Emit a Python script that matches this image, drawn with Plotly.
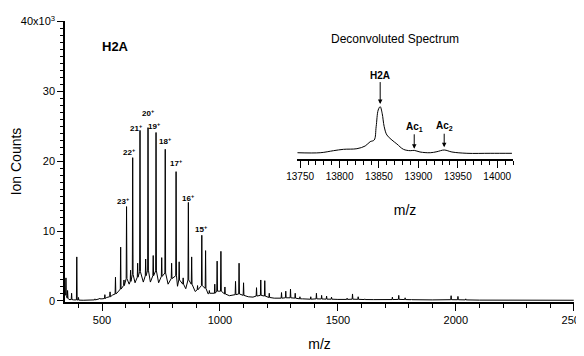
import numpy as np
import plotly.graph_objects as go

# ---------------- data ----------------
# broad baseline (trough) of the spectrum, m/z vs ion counts
base_mz = [343, 350, 360, 380, 420, 460, 500, 520, 545, 568, 600, 615, 640, 675, 705, 740, 780, 820, 855, 895,
           950, 1000, 1040, 1120, 1140, 1230, 1350, 1500, 1650, 1900, 2100, 2250, 2420, 2500]
base_val = [800, 300, 200, 150, 100, 150, 300, 500, 850, 1300, 2100, 2400, 2600, 2700, 2700, 2600, 2400, 2100, 1750, 1350,
            1000, 850, 750, 600, 550, 400, 300, 220, 190, 150, 120, 110, 100, 100]

# individual peaks: m/z, apex height, height at the foot of the spike
peak_mz = [347, 354, 371, 393, 400, 470, 490, 512, 534, 557, 579, 593, 604, 621, 630, 651, 661, 685, 695, 717,
           729, 753, 768, 795, 814, 827, 844, 866, 880, 905, 923, 939, 955, 978, 988, 1004, 1021, 1066, 1081, 1100,
           1155, 1173, 1190, 1209, 1261, 1279, 1299, 1319, 1339, 1385, 1409, 1431, 1452, 1473, 1539, 1562, 1586, 1614,
           1731, 1758, 1785, 1812, 1980, 2009, 2042, 2306, 2344, 2377]
peak_top = [3300, 1500, 1100, 6300, 500, 300, 400, 900, 1300, 3400, 7700, 3000, 13500, 4400, 20500, 5400, 24400, 6000, 24800, 6500,
            24100, 6200, 21700, 5400, 18500, 5600, 3300, 14100, 6300, 2200, 9400, 7200, 1500, 2400, 5700, 7100, 2000, 2800, 5400, 2600,
            1900, 3000, 2900, 1100, 1200, 1400, 1700, 1100, 600, 600, 1100, 800, 700, 550, 400, 1000, 600, 300,
            550, 800, 450, 250, 750, 650, 300, 200, 200, 150]
peak_foot = [800, 400, 200, 150, 120, 150, 300, 350, 600, 1000, 1700, 2200, 3200, 2800, 3800, 3400, 4200, 3600, 4400, 3600,
             4300, 3500, 4000, 3200, 3600, 3000, 2400, 3000, 2400, 1600, 2200, 1800, 1100, 1100, 1400, 1400, 1000, 900, 1000, 800,
             700, 800, 700, 500, 400, 450, 450, 400, 300, 250, 300, 280, 260, 250, 220, 250, 230, 200,
             200, 220, 200, 180, 180, 170, 150, 110, 110, 100]

# charge-state labels and where they sit (m/z, ion counts)
charge_labels = ["23", "22", "21", "20", "19", "18", "17", "16", "15"]
label_mz = [589, 618, 644, 695, 724, 767, 817, 868, 923]
label_y = [14300, 21300, 24700, 26900, 25000, 22900, 19700, 14700, 10300]

# deconvoluted spectrum (inset), mass vs relative intensity
inset_mass = [13746.6, 13775.4, 13792.3, 13805, 13822, 13832.5, 13838.8, 13843.9, 13846.4, 13849, 13851.5, 13854,
              13856.6, 13860, 13866.4, 13872.7, 13881, 13889.6, 13894.7, 13902, 13915, 13923.5, 13932.7, 13942.5,
              13961.5, 13991, 14018.6]
inset_int = [12.0, 12.0, 15.9, 18.5, 19.7, 24.9, 33.1, 36.3, 61.8, 93.7, 100, 87.4,
             61.8, 45.9, 36.3, 28.7, 18.5, 15.9, 16.5, 13.4, 12.0, 14.0, 17.2, 13.4,
             10.9, 10.9, 10.9]

y_label_alias = {"0": "0", "10k": "10", "20k": "20", "30k": "30", "40k": "40x10<sup>3</sup>"}

# ---------------- build the spectrum line ----------------
pts = []
for m, v in zip(base_mz, base_val):
    if all(abs(m - p) > 4 for p in peak_mz):
        pts.append((m, v))
for m, t, f in zip(peak_mz, peak_top, peak_foot):
    pts += [(m - 1.6, f), (m, t), (m + 1.6, f)]
pts.sort(key=lambda p: p[0])
spec_x = [p[0] for p in pts]
spec_y = [p[1] for p in pts]

FONT = "Liberation Sans, Arial, sans-serif"

fig = go.Figure()
fig.add_trace(go.Scatter(x=spec_x, y=spec_y, mode="lines",
                         line=dict(color="black", width=1), hoverinfo="skip", showlegend=False))
fig.add_trace(go.Scatter(x=inset_mass, y=inset_int, mode="lines", xaxis="x2", yaxis="y2",
                         line=dict(color="black", width=1), line_shape="spline",
                         hoverinfo="skip", showlegend=False))

annotations = []
for lab, m, yv in zip(charge_labels, label_mz, label_y):
    annotations.append(dict(x=m, y=yv, xref="x", yref="y", text="<b>%s<sup>+</sup></b>" % lab,
                            showarrow=False, yanchor="middle",
                            font=dict(family=FONT, size=8, color="black")))

annotations.append(dict(x=0.069, y=0.943, xref="paper", yref="paper", text="<b>H2A</b>", showarrow=False,
                        font=dict(family=FONT, size=13, color="black")))
annotations.append(dict(x=0.648, y=0.968, xref="paper", yref="paper", text="Deconvoluted Spectrum",
                        showarrow=False, font=dict(family=FONT, size=12, color="black")))

arrow_specs = [("<b>H2A</b>", 13851.5, 105, -29),
               ("<b>Ac<sub>1</sub></b>", 13894.7, 19.5, -22),
               ("<b>Ac<sub>2</sub></b>", 13932.7, 22.5, -21)]
for txt, xm, yv, ay in arrow_specs:
    annotations.append(dict(x=xm, y=yv, xref="x2", yref="y2", text=txt, showarrow=True,
                            ax=0, ay=ay, arrowhead=2, arrowsize=0.9, arrowwidth=1, arrowcolor="black",
                            font=dict(family=FONT, size=10, color="black")))

# the page body adds an 8 px margin, so the figure is sized to fill the rest of the window
fig.update_layout(
    width=576, height=348,
    margin=dict(l=57, r=10, t=13, b=54, autoexpand=False),
    paper_bgcolor="white", plot_bgcolor="white",
    font=dict(family=FONT, size=11, color="black"),
    showlegend=False,
    xaxis=dict(range=[343, 2501], tickmode="linear", tick0=0, dtick=500, tickformat="d",
               showgrid=False, zeroline=False, ticklabeloverflow="allow", automargin=False,
               showline=True, linecolor="black", linewidth=1.5,
               ticks="outside", ticklen=7, tickcolor="black",
               minor=dict(dtick=100, tick0=0, ticks="outside", ticklen=4, tickcolor="black"),
               tickfont=dict(family=FONT, size=11),
               title=dict(text="m/z", font=dict(family=FONT, size=14), standoff=14)),
    yaxis=dict(range=[-150, 40050], tickmode="linear", tick0=0, dtick=10000, labelalias=y_label_alias,
               showgrid=False, zeroline=False, automargin=False,
               showline=True, linecolor="black", linewidth=1.5,
               ticks="outside", ticklen=6, tickcolor="black",
               minor=dict(dtick=1000, tick0=0, ticks="outside", ticklen=3, tickcolor="black"),
               tickfont=dict(family=FONT, size=11),
               title=dict(text="Ion Counts", font=dict(family=FONT, size=14), standoff=6)),
    xaxis2=dict(domain=[0.4558, 0.8802], anchor="y2", range=[13746, 14020],
                tickmode="linear", tick0=13750, dtick=50, tickformat="d", automargin=False,
                showgrid=False, zeroline=False, showline=True, linecolor="black", linewidth=1.5,
                ticks="outside", ticklen=7, tickcolor="black",
                minor=dict(dtick=10, tick0=13750, ticks="outside", ticklen=4, tickcolor="black"),
                tickfont=dict(family=FONT, size=10),
                title=dict(text="m/z", font=dict(family=FONT, size=14), standoff=24)),
    yaxis2=dict(domain=[0.5089, 0.7367], anchor="x2", range=[0, 122.4], visible=False),
    annotations=annotations,
)

fig.write_html("out.html")
